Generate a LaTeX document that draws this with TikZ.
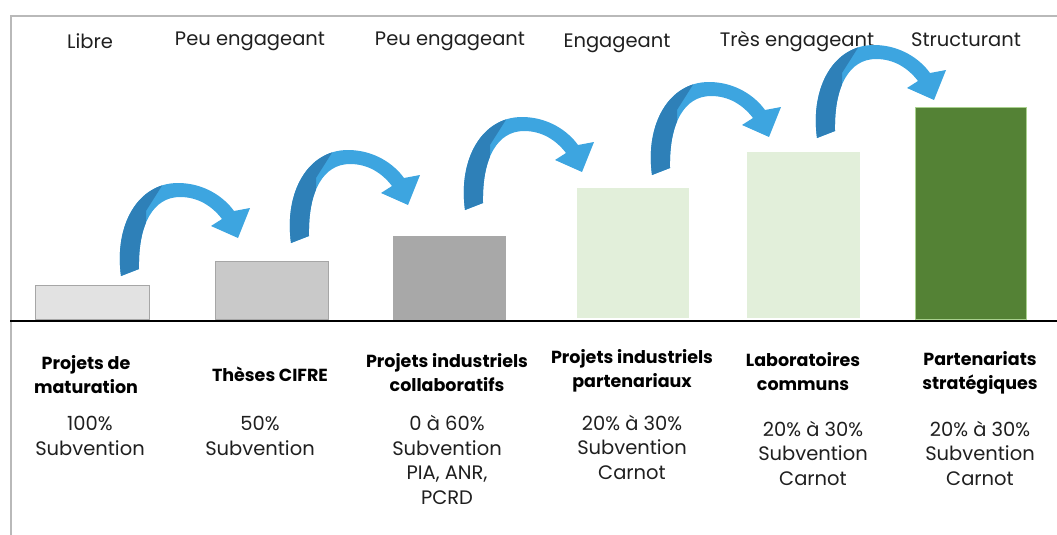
\documentclass[tikz,border=0pt]{standalone}
\usepackage{fontspec}
\setmainfont{Poppins}
\begin{document}
\begin{tikzpicture}[x=1pt,y=-1pt,
  lbl/.style={inner sep=0pt,align=center,font=\fontsize{19.5}{24.5}\selectfont,text=black!88},
  ttl/.style={inner sep=0pt,align=center,font=\fontsize{17.5}{24}\selectfont\bfseries,text=black},
  bar/.style={anchor=south west,inner sep=0pt,line width=0.8pt},
  darkblue/.style={fill={rgb,255:red,46;green,128;blue,184}},
  lightblue/.style={fill={rgb,255:red,61;green,165;blue,224}}]
\useasboundingbox (0,0) rectangle (1057,535);
% frame
\draw[gray!55,line width=1.5pt] (10,16) -- (1057,16);
\draw[gray!55,line width=1.5pt] (11,16) -- (11,535);
% bars
\node[bar,draw=gray!70,fill=gray!23,minimum width=114pt,minimum height=34pt] (b1) at (35,320) {};
\node[bar,draw=gray!70,fill=gray!42,minimum width=113pt,minimum height=58pt] (b2) at (215,320) {};
\node[bar,fill=gray!68,minimum width=113pt,minimum height=85pt] (b3) at (393,321) {};
\node[bar,fill={rgb,255:red,226;green,239;blue,218},minimum width=112pt,minimum height=130pt] (b4) at (577,318) {};
\node[bar,fill={rgb,255:red,226;green,239;blue,218},minimum width=113pt,minimum height=166pt] (b5) at (747,318) {};
\node[bar,draw={rgb,255:red,169;green,209;blue,142},fill={rgb,255:red,84;green,130;blue,53},minimum width=111pt,minimum height=212pt] (b6) at (915,320) {};
% baseline
\draw[line width=2.5pt] (10,321) -- (1057,321);
% top labels
\node[lbl] (t1) at (90,41) {Libre};
\node[lbl] (t2) at (250,41) {Peu engageant};
\node[lbl] (t3) at (450,41) {Peu engageant};
\node[lbl] (t4) at (617,43) {Engageant};
\node[lbl] (t5) at (797,42) {Très engageant};
\node[lbl] (t6) at (966,40) {Structurant};
% bottom titles
\node[ttl] (n1) at (86,375) {Projets de\\maturation};
\node[ttl] (n2) at (270,374) {Thèses CIFRE};
\node[ttl] (n3) at (447,373) {Projets industriels\\collaboratifs};
\node[ttl] (n4) at (632,371) {Projets industriels\\partenariaux};
\node[ttl] (n5) at (803,372) {Laboratoires\\communs};
\node[ttl] (n6) at (980,373) {Partenariats\\stratégiques};
% bottom details
\node[lbl] (d1) at (90,436) {100\%\\Subvention};
\node[lbl] (d2) at (260,436) {50\%\\Subvention};
\node[lbl] (d3) at (447,460) {0 à 60\%\\Subvention\\PIA, ANR,\\PCRD};
\node[lbl] (d4) at (632,447) {20\% à 30\%\\Subvention\\Carnot};
\node[lbl] (d5) at (813,453) {20\% à 30\%\\Subvention\\Carnot};
\node[lbl] (d6) at (980,453) {20\% à 30\%\\Subvention\\Carnot};
% arrows
\foreach \tx/\ty in {130/273,300/240,474/207,661/172,826/135}{
\begin{scope}[shift={(\tx,\ty)},yscale=-1]
  \fill[lightblue] (-9,-3) .. controls (-16,48) and (8,90) .. (48,90)
     .. controls (74,90) and (94,76) .. (104,62) -- (120,65) -- (108,35) -- (81,47) -- (92,54)
     .. controls (82,67) and (68,76) .. (50,76) .. controls (24,76) and (8,50) .. (9,4) -- cycle;
  \begin{scope}
  \clip (-30,-10) -- (16,-10) -- (16,62) -- (40,100) -- (-30,100) -- cycle;
  \fill[darkblue] (-9,-3) .. controls (-16,48) and (8,90) .. (48,90)
     -- (50,76) .. controls (24,76) and (8,50) .. (9,4) -- cycle;
  \end{scope}
\end{scope}}
\end{tikzpicture}
\end{document}
